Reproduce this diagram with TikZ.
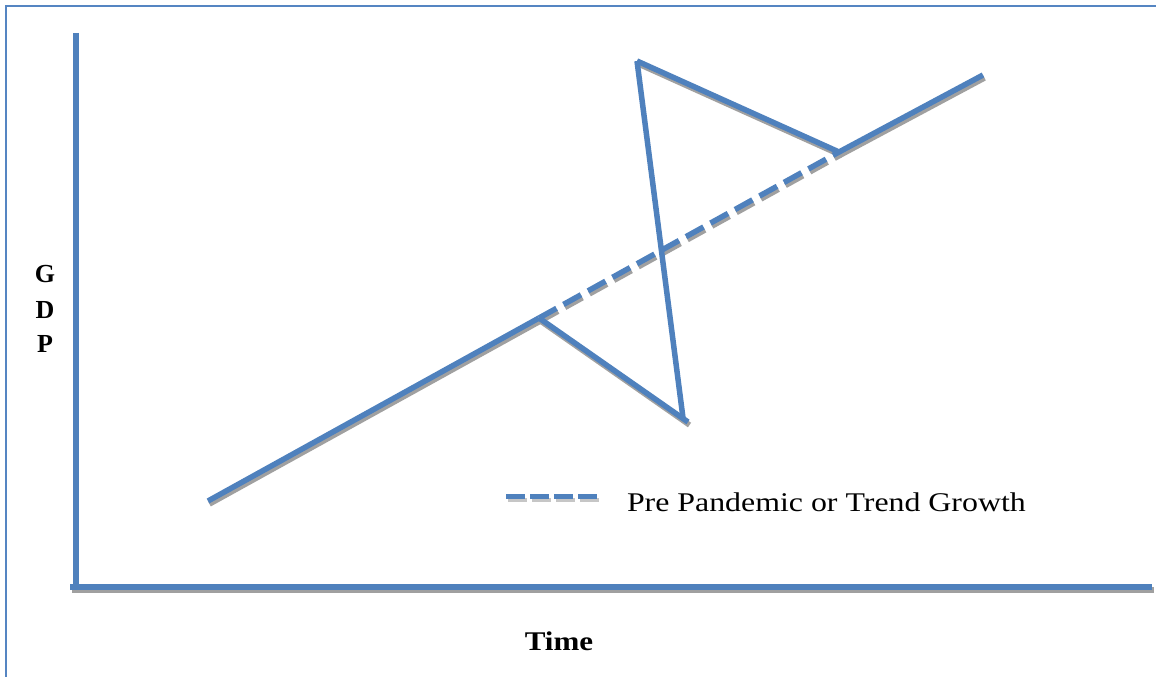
\documentclass[tikz,border=0pt]{standalone}
\usepackage{fontspec}
\setmainfont{Liberation Serif}
\begin{document}
\begin{tikzpicture}[x=1pt,y=-1pt,
  every node/.style={inner sep=0pt,outer sep=0pt},
  gline/.style={line width=5.5pt,color=blueline,line cap=butt},
  shline/.style={line width=5.5pt,color=shadowgray,line cap=butt,transform canvas={shift={(1.5,3)}}},
  dashpat/.style={dash pattern=on 20pt off 8pt},
  legdash/.style={dash pattern=on 19pt off 5pt},
  framestyle/.style={line width=2pt,color=framecol},
  lbl/.style={font=\fontsize{27}{32}\selectfont},
  blbl/.style={font=\fontsize{26}{32}\selectfont\bfseries}]
\definecolor{blueline}{HTML}{4F81BD}
\definecolor{framecol}{HTML}{5585C2}
\definecolor{shadowgray}{HTML}{A0A0A0}
\useasboundingbox (0,0) rectangle (1156,677);
\fill[white] (0,0) rectangle (1156,677);
% frame
\coordinate (fb) at (6,677);
\coordinate (fc) at (6,6);
\coordinate (fr) at (1156,6);
\draw[framestyle] (fb) -- (fc) -- (fr);
% axes
\coordinate (yt) at (76,33);
\coordinate (yb) at (76,590);
\coordinate (ol) at (70,587);
\coordinate (xr) at (1152,587);
\draw[shline] (ol) -- (xr);
\draw[gline] (ol) -- (xr);
\draw[gline] (yt) -- (yb);
% points
\coordinate (A) at (208,501);
\coordinate (B) at (539,318);
\coordinate (C) at (688,422);
\coordinate (C2) at (683,418);
\coordinate (D) at (637,61);
\coordinate (E) at (839,152);
\coordinate (F) at (983,75);
% shadows
\draw[shline] (A) -- (B);
\draw[shline] (B) -- (C);
\draw[shline] (D) -- (E) -- (F);
\draw[shline,dashpat] (B) -- (E);
% lines
\draw[gline,dashpat] (B) -- (E);
\draw[gline] (A) -- (B);
\draw[gline] (B) -- (C);
\draw[gline] (C2) -- (D);
\draw[gline,line join=bevel] (D) -- (E) -- (F);
% legend
\coordinate (L1) at (506,496.5);
\coordinate (L2) at (598,496.5);
\draw[shline,legdash,line width=4pt,color=shadowgray!60] (L1) -- (L2);
\draw[gline,legdash] (L1) -- (L2);
\node[lbl,anchor=base west] (legtext) at (627,511) {\scalebox{1.18}[1]{Pre Pandemic or Trend Growth}};
% axis labels
\node[blbl,anchor=base] (gG) at (45,282) {G};
\node[blbl,anchor=base] (gD) at (45,318) {D};
\node[blbl,anchor=base] (gP) at (45,352) {P};
\node[blbl,font=\fontsize{27}{32}\selectfont\bfseries,anchor=base] (time) at (559,650) {\scalebox{1.15}[1]{Time}};
\end{tikzpicture}
\end{document}
